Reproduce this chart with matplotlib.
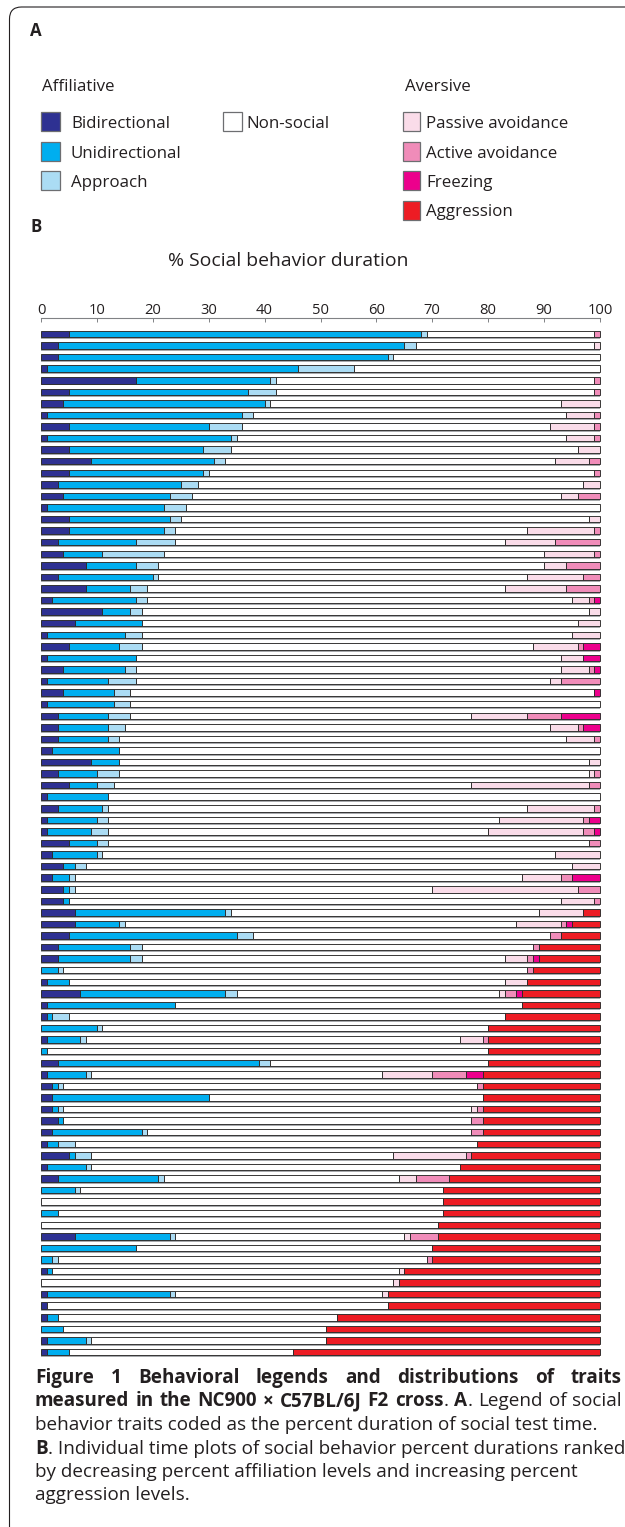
import matplotlib
matplotlib.use("Agg")
import matplotlib.pyplot as plt
from matplotlib.patches import Rectangle, FancyBboxPatch
from matplotlib.transforms import IdentityTransform
from matplotlib.font_manager import FontProperties
import numpy as np

W, H, DPI = 625, 1527, 100
plt.rcParams['font.family'] = ['Open Sans', 'DejaVu Sans']
TXT = '#231f20'

categories = ["Bidirectional", "Unidirectional", "Approach", "Non-social",
              "Passive avoidance", "Active avoidance", "Freezing", "Aggression"]
colors = ["#2e3192", "#00aeef", "#abdcf4", "#ffffff",
          "#fadce9", "#f08cb9", "#ec008c", "#ed1c24"]

bidirectional = [5, 3, 3, 1, 17, 5, 4, 1, 5, 1, 5, 9, 5, 3, 4, 1, 5, 5, 3, 4,
                 8, 3, 8, 2, 11, 6, 1, 5, 1, 4, 1, 4, 1, 3, 3, 3, 2, 9, 3, 5,
                 1, 3, 1, 1, 5, 2, 4, 2, 4, 4, 6, 6, 5, 3, 3, 0, 1, 7, 1, 1,
                 0, 1, 0, 3, 1, 2, 2, 2, 3, 2, 1, 5, 1, 3, 0, 0, 0, 0, 6, 0,
                 0, 1, 0, 1, 1, 1, 0, 1, 1]
unidirectional = [63, 62, 59, 45, 24, 32, 36, 35, 25, 33, 24, 22, 24, 22, 19, 21, 18, 17, 14, 7,
                  9, 17, 8, 15, 5, 12, 14, 9, 16, 11, 11, 9, 12, 9, 9, 9, 12, 5, 7, 5,
                  11, 8, 9, 8, 5, 8, 2, 3, 1, 1, 27, 8, 30, 13, 13, 3, 4, 26, 23, 1,
                  10, 6, 1, 36, 7, 1, 28, 1, 1, 16, 2, 1, 7, 18, 6, 0, 3, 0, 17, 17,
                  2, 1, 0, 22, 0, 2, 4, 7, 4]
approach = [1, 2, 1, 10, 1, 5, 1, 2, 6, 1, 5, 2, 1, 3, 4, 4, 2, 2, 7, 11,
            4, 1, 3, 2, 2, 0, 3, 4, 0, 2, 5, 3, 3, 4, 3, 2, 0, 0, 4, 3,
            0, 1, 2, 3, 2, 1, 2, 1, 1, 0, 1, 1, 3, 2, 2, 1, 0, 2, 0, 3,
            1, 1, 0, 2, 1, 1, 0, 1, 0, 1, 3, 3, 1, 1, 1, 0, 0, 0, 1, 0,
            1, 0, 0, 1, 0, 0, 0, 1, 0]
non_social = [30, 32, 37, 44, 57, 57, 52, 56, 55, 59, 62, 59, 69, 69, 66, 74, 73, 63, 59, 68,
              69, 66, 64, 76, 80, 78, 77, 70, 76, 76, 74, 83, 84, 61, 76, 80, 86, 84, 84, 64,
              88, 75, 70, 68, 86, 81, 87, 80, 64, 88, 55, 70, 53, 70, 65, 83, 78, 47, 62, 78,
              69, 67, 79, 39, 52, 74, 49, 73, 73, 58, 72, 54, 66, 42, 65, 72, 69, 71, 41, 53,
              66, 62, 63, 37, 61, 50, 47, 42, 40]
passive_avoidance = [0, 1, 0, 0, 0, 0, 7, 5, 8, 5, 4, 6, 0, 3, 3, 0, 2, 12, 9, 9,
                     4, 10, 11, 3, 2, 4, 5, 8, 4, 5, 2, 0, 0, 10, 5, 5, 0, 2, 1, 21,
                     0, 12, 15, 17, 0, 8, 5, 7, 26, 6, 8, 8, 0, 0, 4, 0, 4, 1, 0, 0,
                     0, 4, 0, 0, 9, 0, 0, 1, 0, 0, 0, 13, 0, 3, 0, 0, 0, 0, 1, 0,
                     0, 1, 1, 1, 0, 0, 0, 0, 0]
active_avoidance = [1, 0, 0, 0, 1, 1, 0, 1, 1, 1, 0, 2, 1, 0, 4, 0, 0, 1, 8, 1,
                    6, 3, 6, 1, 0, 0, 0, 1, 0, 1, 7, 0, 0, 6, 1, 1, 0, 0, 1, 2,
                    0, 1, 1, 2, 2, 0, 0, 2, 4, 1, 0, 1, 2, 1, 1, 1, 0, 2, 0, 0,
                    0, 1, 0, 0, 6, 1, 0, 1, 2, 2, 0, 1, 0, 6, 0, 0, 0, 0, 5, 0,
                    1, 0, 0, 0, 0, 0, 0, 0, 0]
freezing = [0, 0, 0, 0, 0, 0, 0, 0, 0, 0, 0, 0, 0, 0, 0, 0, 0, 0, 0, 0,
            0, 0, 0, 1, 0, 0, 0, 3, 3, 1, 0, 1, 0, 7, 3, 0, 0, 0, 0, 0,
            0, 0, 2, 1, 0, 0, 0, 5, 0, 0, 0, 1, 0, 0, 1, 0, 0, 1, 0, 0,
            0, 0, 0, 0, 3, 0, 0, 0, 0, 0, 0, 0, 0, 0, 0, 0, 0, 0, 0, 0,
            0, 0, 0, 0, 0, 0, 0, 0, 0]
aggression = [0, 0, 0, 0, 0, 0, 0, 0, 0, 0, 0, 0, 0, 0, 0, 0, 0, 0, 0, 0,
              0, 0, 0, 0, 0, 0, 0, 0, 0, 0, 0, 0, 0, 0, 0, 0, 0, 0, 0, 0,
              0, 0, 0, 0, 0, 0, 0, 0, 0, 0, 3, 5, 7, 11, 11, 12, 13, 14, 14, 17,
              20, 20, 20, 20, 21, 21, 21, 21, 21, 21, 22, 23, 25, 27, 28, 28, 28, 29, 29, 30,
              30, 35, 36, 38, 38, 47, 49, 49, 55]

tick_values = [0, 10, 20, 30, 40, 50, 60, 70, 80, 90, 100]
tick_labels = ["0", "10", "20", "30", "40", "50", "60", "70", "80", "90", "100"]

series = [bidirectional, unidirectional, approach, non_social,
          passive_avoidance, active_avoidance, freezing, aggression]

fig = plt.figure(figsize=(W / DPI, H / DPI), dpi=DPI)
fig.patch.set_facecolor('white')


def fx(x):
    return x / W


def fy(y):
    return 1 - y / H


# ---------------- bar chart ----------------
ax_top, ax_bot = 318.0, 1362.0
first_bar, last_bar = 334.0, 1352.0
n = len(bidirectional)
step = (last_bar - first_bar) / (n - 1)
ax = fig.add_axes([fx(41), fy(ax_bot), (600 - 41) / W, (ax_bot - ax_top) / H])
ax.set_xlim(0, 100)
ax.set_ylim((n - 1) + (ax_bot - last_bar) / step, -(first_bar - ax_top) / step)

ypos = np.arange(n)
bh = 0.56
data = np.array(series, dtype=float)
totals = data.sum(axis=0)
# grey under-shadow of each bar
ax.barh(ypos + 0.17, totals, left=0, height=bh, color='#a7a9ac',
        edgecolor='none', zorder=1, clip_on=False)
left = np.zeros(n)
for k, (name, col) in enumerate(zip(categories, colors)):
    vals = data[k]
    m = vals > 0
    ax.barh(ypos[m], vals[m], left=left[m], height=bh, color=col,
            edgecolor='#2b2a29', linewidth=0.65, zorder=2, clip_on=False)
    left += vals

for s in ['left', 'right', 'bottom']:
    ax.spines[s].set_visible(False)
ax.spines['top'].set_color('#808285')
ax.spines['top'].set_linewidth(0.8)
ax.set_yticks([])
ax.xaxis.tick_top()
ax.set_xticks(tick_values)
ax.set_xticklabels(tick_labels)
ax.tick_params(axis='x', direction='in', length=2.6, width=0.7, color='#808285',
               labelcolor=TXT, labelsize=11)
ax.patch.set_alpha(0)

fig.canvas.draw()
r = fig.canvas.get_renderer()


def wpx(t):
    return t.get_window_extent(renderer=r).width


# fit tick label size
tl = ax.get_xticklabels()[1]
tsize = 11 * 16.8 / wpx(tl)
ax.tick_params(axis='x', labelsize=tsize)
prop = FontProperties(family=['Open Sans', 'DejaVu Sans'], size=tsize)
_, _, desc = r.get_text_width_height_descent('lp', prop, ismath=False)
pad_px = (ax_top - 313.5) - desc
ax.tick_params(axis='x', pad=pad_px * 72 / DPI)

# ---------------- legend panel A ----------------
probe = fig.text(0, 0, "Passive avoidance", fontsize=12)
lsize = 12 * 141 / wpx(probe)
probe.remove()


def put(x, y, s, **kw):
    kw.setdefault('fontsize', lsize)
    kw.setdefault('color', TXT)
    return fig.text(fx(x), fy(y), s, va='baseline', **kw)


put(30, 36.5, "A", fontweight='bold')
put(30, 231.5, "B", fontweight='bold')
put(42, 91, "Affiliative")
put(405, 91, "Aversive")

row_base = [128.3, 157.7, 187.0, 216.5]


def square(x, base, w, col):
    top = base - 16.0
    fig.add_artist(Rectangle((fx(x), fy(top + 19)), w / W, 19 / H,
                             transform=fig.transFigure, facecolor=col,
                             edgecolor='#6d6e71', linewidth=0.9))


for i in range(3):
    square(41, row_base[i], 19, colors[i])
    put(71, row_base[i], categories[i])
square(223, row_base[0], 19, colors[3])
put(246, row_base[0], categories[3])
for i in range(4):
    square(403, row_base[i], 16.5, colors[4 + i])
    put(426, row_base[i], categories[4 + i])

title = fig.text(fx(288), fy(266.5), "% Social behavior duration",
                 ha='center', va='baseline', fontsize=lsize, color=TXT)
title.set_fontsize(lsize * 242 / wpx(title))

# ---------------- caption ----------------
Bd, Nm = 'bold', 'normal'
probe = fig.text(0, 0, "behavior traits coded as the percent duration of social test time.",
                 fontsize=12)
csize = 12 * 561 / wpx(probe)
probe.remove()

cap_lines = [
    ('justify', [[("Figure", Bd)], [("1", Bd)], [("Behavioral", Bd)], [("legends", Bd)],
                 [("and", Bd)], [("distributions", Bd)], [("of", Bd)], [("traits", Bd)]]),
    ('justify', [[("measured", Bd)], [("in", Bd)], [("the", Bd)], [("NC900", Bd)],
                 [("×", Bd)], [("C57BL/6J", Bd)], [("F2", Bd)], [("cross", Bd), (".", Nm)],
                 [("A", Bd), (".", Nm)], [("Legend", Nm)], [("of", Nm)], [("social", Nm)]]),
    ('left', [[("behavior traits coded as the percent duration of social test time.", Nm)]]),
    ('left', [[("B", Bd), (". Individual time plots of social behavior percent durations ranked", Nm)]]),
    ('left', [[("by decreasing percent affiliation levels and increasing percent", Nm)]]),
    ('left', [[("aggression levels.", Nm)]]),
]
x0, x1 = 35.0, 622.0
base0, lstep = 1383.0, 23.5
for li, (mode, words) in enumerate(cap_lines):
    yb = base0 + li * lstep
    objs = []
    for word in words:
        pieces = []
        for txt, wt in word:
            t = fig.text(0, fy(yb), txt, fontsize=csize, fontweight=wt,
                         color=TXT, va='baseline', ha='left')
            pieces.append((t, wpx(t)))
        objs.append(pieces)
    wsum = [sum(p[1] for p in pcs) for pcs in objs]
    if mode == 'justify' and len(objs) > 1:
        gap = (x1 - x0 - sum(wsum)) / (len(objs) - 1)
    else:
        gap = 0
    x = x0
    for pcs, ww in zip(objs, wsum):
        xx = x
        for t, w in pcs:
            t.set_x(fx(xx))
            xx += w
        x += ww + gap

# ---------------- frame ----------------
frame = FancyBboxPatch((9.5, -60), 800, (H - 7) + 60,
                       boxstyle="round,pad=0,rounding_size=12",
                       transform=IdentityTransform(), facecolor='none',
                       edgecolor='#231f20', linewidth=0.8)
fig.add_artist(frame)

fig.savefig("out.png", dpi=DPI, facecolor='white')
